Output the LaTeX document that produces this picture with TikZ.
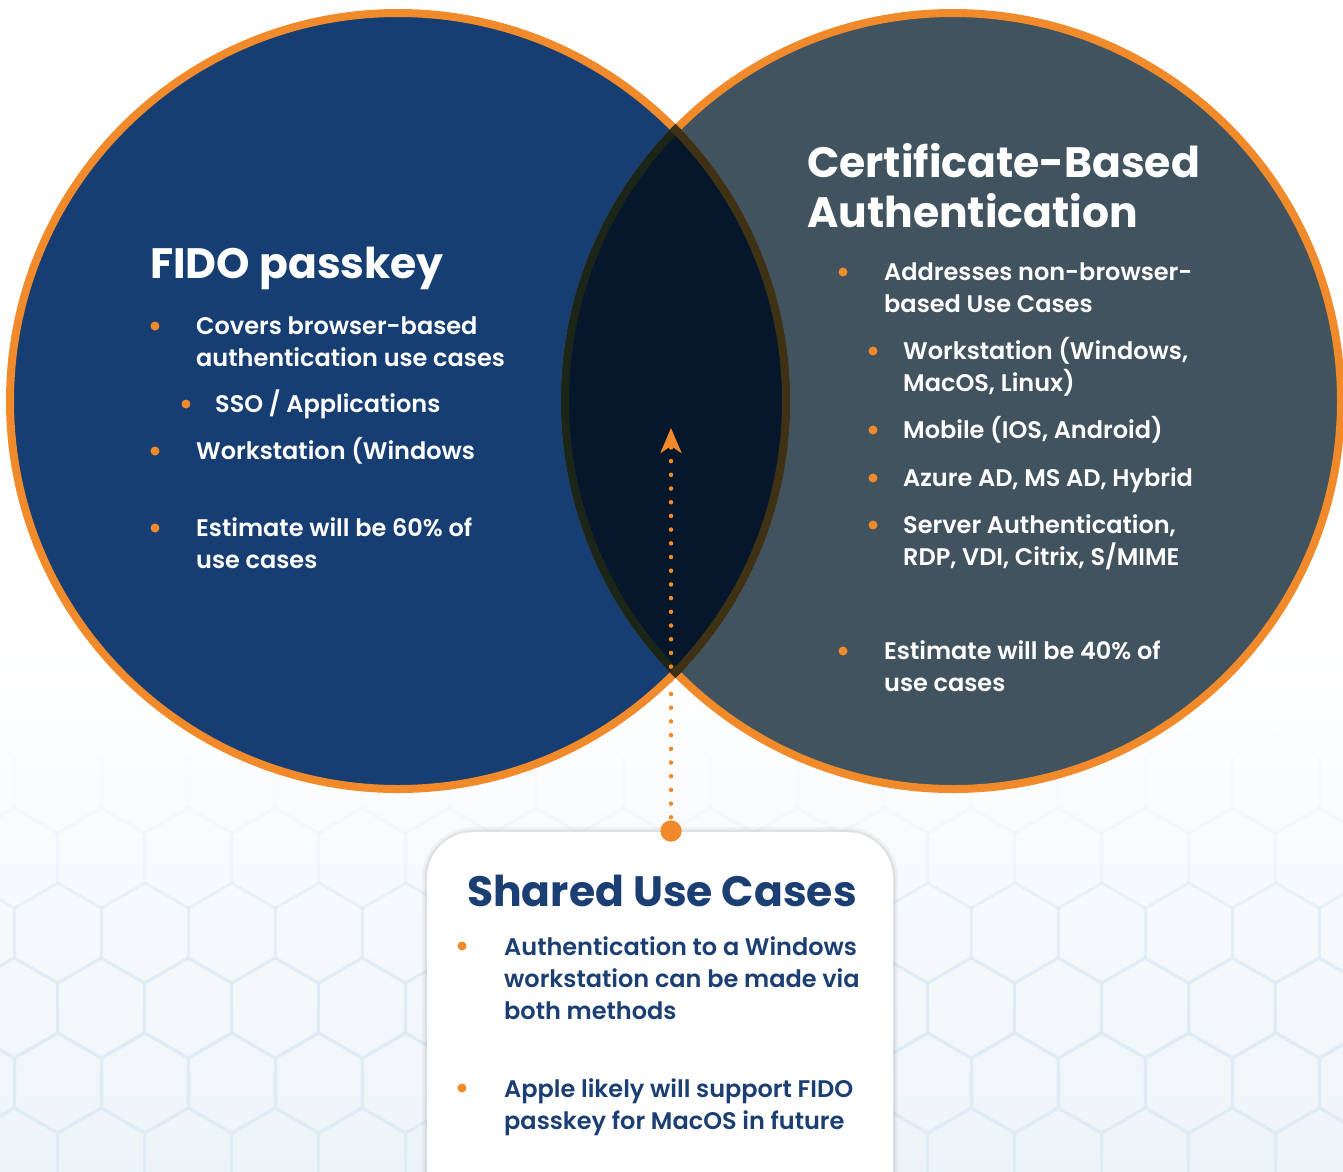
\documentclass[tikz,border=0pt]{standalone}
\usepackage{fontspec}
\setmainfont{Poppins}[UprightFont=* SemiBold, BoldFont=* Bold]
\newfontfamily\semib{Poppins SemiBold}
\usetikzlibrary{arrows.meta}

\definecolor{fidoblue}{HTML}{173E73}
\definecolor{certgrey}{HTML}{41535E}
\definecolor{lensnavy}{HTML}{06162B}
\definecolor{accent}{HTML}{F08A2A}
\definecolor{edgegreen}{HTML}{1B2619}
\definecolor{edgebrown}{HTML}{3E3114}
\definecolor{textnavy}{HTML}{1B3F73}
\definecolor{paleblue}{HTML}{EDF4F9}
\definecolor{hexline}{HTML}{DFECF6}

\begin{document}
\begin{tikzpicture}[x=1pt,y=-1pt]
\tikzset{
	heading/.style = {anchor=base west, align=left, inner sep=0, font=\fontsize{42.5}{50}\selectfont\bfseries},
	item/.style = {anchor=base west, align=left, inner sep=0, text=white, font=\fontsize{24}{32}\selectfont},
	subitem/.style = {item, font=\fontsize{24}{32}\selectfont\semib},
	boxitem/.style = {item, text=textnavy, font=\fontsize{24}{32}\selectfont\semib},
	dot/.style = {circle, fill=accent, inner sep=0, minimum size=9pt},
	hub/.style = {circle, fill=accent, inner sep=0, minimum size=21pt},
	hexcell/.style = {draw=hexline, line width=3pt},
	sharedbox/.style = {rectangle, rounded corners=46pt, fill=white, anchor=north,
		minimum width=466pt, minimum height=400pt,
		preaction={draw=black, opacity=0.04, line width=10pt},
		preaction={draw=black, opacity=0.06, line width=5pt}},
	dotline/.style = {draw=accent, line width=4.5pt, line cap=round, dash pattern=on 0pt off 13.7pt}
}

% background
\useasboundingbox (0,0) rectangle (1343,1171);
\fill[white] (0,0) rectangle (1343,1171);
\shade[top color=white, bottom color=paleblue] (0,650) rectangle (1343,1171);
\foreach \r/\op in {0/0.03,1/0.2,2/0.5,3/0.8,4/1,5/1}{
	\pgfmathsetmacro\cy{783+75*\r}
	\pgfmathsetmacro\off{mod(\r,2)==0 ? 58 : 101}
	\foreach \c in {-1,...,15}
		\draw[hexcell, opacity=\op] (\off+87*\c,\cy) +(30:50) -- +(90:50) -- +(150:50)
			-- +(210:50) -- +(270:50) -- +(330:50) -- cycle;
}

% circles
\coordinate (fidocentre) at (398,401);
\coordinate (certcentre) at (953,401);
\fill[fidoblue] (fidocentre) circle (388pt);
\fill[certgrey] (certcentre) circle (388pt);
\draw[accent, line width=8pt] (fidocentre) circle (388pt);
\draw[accent, line width=8pt] (certcentre) circle (388pt);
\begin{scope}
	\clip (fidocentre) circle (392pt);
	\fill[lensnavy] (certcentre) circle (392pt);
	\draw[edgegreen, line width=8pt] (certcentre) circle (388pt);
\end{scope}
\begin{scope}
	\clip (certcentre) circle (392pt);
	\draw[edgebrown, line width=8pt] (fidocentre) circle (388pt);
\end{scope}

% FIDO side (base = last line)
\node[heading, text=white] (fido) at (150,278) {FIDO passkey};
\node[item] (fidoa) at (196,366) {Covers browser-based\\authentication use cases};
\node[subitem] (fidob) at (215,412) {SSO / Applications};
\node[item] (fidow) at (196,459) {Workstation (Windows};
\node[item] (fidoest) at (196,568) {Estimate will be 60\% of\\use cases};
\node[dot] (fidodota) at (155,326) {};
\node[dot] (fidodotb) at (186,404) {};
\node[dot] (fidodotw) at (155,451) {};
\node[dot] (fidodotest) at (155,528) {};

% certificate side
\node[heading, text=white] (cert) at (807,227) {Certificate-Based\\Authentication};
\node[item] (certa) at (884,312) {Addresses non-browser-\\based Use Cases};
\node[subitem] (certb) at (903,391) {Workstation (Windows,\\MacOS, Linux)};
\node[subitem] (certc) at (903,438) {Mobile (IOS, Android)};
\node[subitem] (certd) at (903,486) {Azure AD, MS AD, Hybrid};
\node[subitem] (certe) at (903,565) {Server Authentication,\\RDP, VDI, Citrix, S/MIME};
\node[item] (certest) at (884,691) {Estimate will be 40\% of\\use cases};
\node[dot] (certdota) at (843,272) {};
\node[dot] (certdotb) at (873,351) {};
\node[dot] (certdotc) at (873,430) {};
\node[dot] (certdotd) at (873,478) {};
\node[dot] (certdote) at (873,525) {};
\node[dot] (certdotest) at (843,651) {};

% shared box
\node[sharedbox] (shared) at (660,832) {};
\node[heading, text=textnavy] (sharedtitle) at (467,906) {Shared Use Cases};
\node[boxitem] (shareda) at (504,1019) {Authentication to a Windows\\workstation can be made via\\both methods};
\node[boxitem] (sharedb) at (504,1129) {Apple likely will support FIDO\\passkey for MacOS in future};
\node[dot] (shareddota) at (462,946) {};
\node[dot] (shareddotb) at (462,1088) {};

% pointer
\coordinate (tip) at (671,428);
\node[hub] (hub) at (671,831) {};
\draw[dotline, -{Stealth[length=25pt, width=21pt, inset=7pt, sep=0pt, line cap=butt]}] (hub.center) -- (tip);
\node[hub] (hubtop) at (hub) {};
\end{tikzpicture}
\end{document}
